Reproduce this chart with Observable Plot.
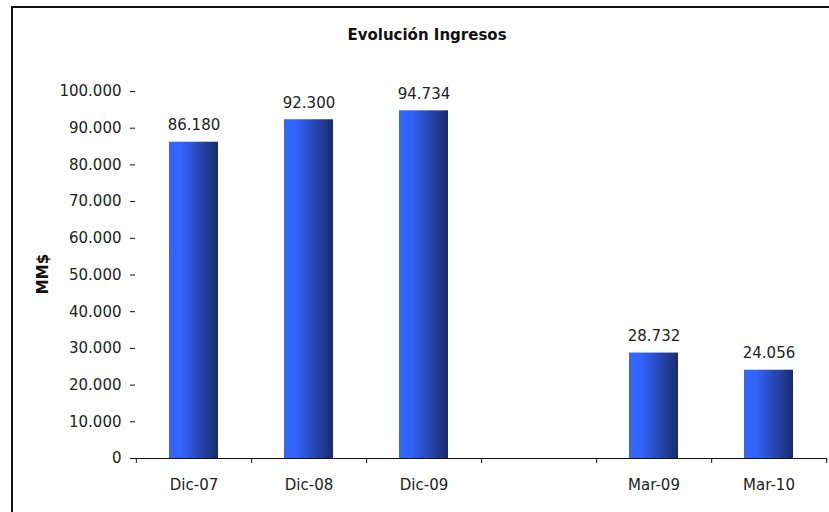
<!DOCTYPE html>
<html>
<head>
<meta charset="utf-8">
<script src="https://cdn.jsdelivr.net/npm/d3@7"></script>
<script src="https://cdn.jsdelivr.net/npm/@observablehq/plot@0.6"></script>
<style>
  html, body { margin: 0; padding: 0; background: #fff; }
  #wrap { position: relative; width: 829px; height: 512px; overflow: hidden; font-family: "DejaVu Sans", sans-serif; }
  #frame { position: absolute; left: 11px; top: 6px; width: 900px; height: 600px; border-left: 2px solid #111; border-top: 2px solid #111; }
  #title { position: absolute; top: 26px; left: 0; width: 854px; text-align: center; font-weight: bold; font-size: 15px; color: #111; }
  #ylabel { position: absolute; left: 43px; top: 274px; transform: translate(-50%, -50%) rotate(-90deg); font-weight: bold; font-size: 15px; color: #111; white-space: nowrap; }
  #chart { position: absolute; left: 0; top: 0; }
</style>
</head>
<body>
<div id="wrap">
  <div id="frame"></div>
  <div id="chart"></div>
  <div id="title">Evolución Ingresos</div>
  <div id="ylabel"></div>
</div>
<script>
const categories = ["Dic-07", "Dic-08", "Dic-09", " ", "Mar-09", "Mar-10"];
const values = [86180, 92300, 94734, null, 28732, 24056];
const yTicks = [0, 10000, 20000, 30000, 40000, 50000, 60000, 70000, 80000, 90000, 100000];
const yLabel = "MM$";

document.getElementById("ylabel").textContent = yLabel;

const locale = d3.formatLocale({decimal: ",", thousands: ".", grouping: [3], currency: ["$", ""]});
const fmt = locale.format(",");

const data = categories.map((c, i) => ({cat: c, value: values[i]})).filter(d => d.value != null);

const W = 829, H = 512, ML = 135, MR = 2, MT = 91, MB = 54;
const step = (W - ML - MR) / categories.length;

const chart = Plot.plot({
  width: W,
  height: H,
  marginLeft: ML,
  marginRight: MR,
  marginTop: MT,
  marginBottom: MB,
  style: {fontFamily: "DejaVu Sans, sans-serif", fontSize: "15px", color: "#222", background: "transparent"},
  x: {domain: categories, paddingInner: 0.575, paddingOuter: 0.2875, label: null},
  y: {domain: [0, 100000], label: null},
  marks: [
    Plot.barY(data, {x: "cat", y: "value", fill: "url(#barGrad)"}),
    Plot.text(data, {x: "cat", y: "value", text: d => fmt(d.value), lineAnchor: "bottom", dy: -12, fill: "#222"}),
    Plot.axisY({ticks: yTicks, tickFormat: fmt, tickSize: 5, tickPadding: 9, line: true, label: null, stroke: "#111"}),
    Plot.axisX({tickSize: 0, tickPadding: 21, label: null}),
    Plot.ruleY([0], {stroke: "#111"}),
    Plot.ruleX(categories, {x: d => d, dx: step / 2, y1: 0, y2: 0, insetBottom: -5, stroke: "#111"}),
    Plot.ruleX([categories[0]], {x: d => d, dx: -step / 2, y1: 0, y2: 0, insetBottom: -5, stroke: "#111"})
  ]
});

const defs = d3.select(chart).insert("defs", ":first-child");
const g = defs.append("linearGradient").attr("id", "barGrad").attr("x1", "0").attr("x2", "1").attr("y1", "0").attr("y2", "0");
g.append("stop").attr("offset", "0%").attr("stop-color", "#3366ff");
g.append("stop").attr("offset", "25%").attr("stop-color", "#3264fa");
g.append("stop").attr("offset", "100%").attr("stop-color", "#1a2b68");

document.getElementById("chart").appendChild(chart);
</script>
</body>
</html>
